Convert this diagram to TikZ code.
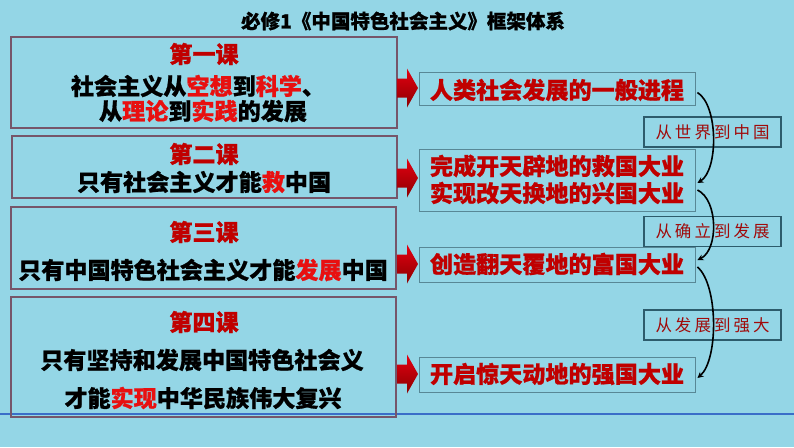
\documentclass[tikz,border=0pt]{standalone}
\usepackage{fontspec}
\setmainfont[BoldFeatures={FakeBold=0.8}]{Noto Sans CJK SC}
\usetikzlibrary{calc,arrows.meta}
\definecolor{bg}{RGB}{148,214,230}
\definecolor{lboxc}{RGB}{118,86,106}
\definecolor{rboxc}{RGB}{88,136,150}
\definecolor{hl}{RGB}{232,16,16}
\definecolor{dred}{RGB}{192,0,0}
\definecolor{kred}{RGB}{160,10,10}
\definecolor{tagc}{RGB}{45,92,108}
\definecolor{blinec}{RGB}{58,110,200}
\definecolor{arrdark}{RGB}{140,0,0}
\definecolor{arrlight}{RGB}{228,0,18}
\newcommand{\hlt}[1]{\textcolor{hl}{#1}}
\newcommand{\tsp}{\hspace{3pt}}
\begin{document}
\begin{tikzpicture}[x=1pt,y=-1pt,
  lboxs/.style={draw=lboxc,line width=1.1pt,inner sep=0},
  rboxs/.style={draw=rboxc,line width=0.9pt,inner sep=0,minimum width=276,minimum height=33},
  tagbox/.style={draw=tagc,line width=1.2pt,inner sep=0,minimum width=137,minimum height=30,
     font=\fontsize{16.5}{18}\selectfont,text=kred},
  ltxt/.style={inner sep=0,font=\fontsize{23.1}{26}\selectfont\bfseries,text=black},
  lhead/.style={ltxt,text=dred},
  rtxt/.style={inner sep=0,font=\fontsize{23.1}{26}\selectfont\bfseries,text=dred},
  curvearr/.style={draw=black,line width=1.6pt,-{Stealth[length=6pt,width=6pt]}},
  barrow/.pic={\shade[top color=arrlight,bottom color=arrdark]
     (-10.5,-9.5) -- (-0.5,-9.5) -- (-0.5,-19.5) -- (10.5,0) -- (-0.5,19.5) -- (-0.5,9.5) -- (-10.5,9.5) -- cycle;}
]
\fill[bg] (0,0) rectangle (794,447);
\useasboundingbox (0,0) rectangle (794,447);

% title
\node[inner sep=0,font=\fontsize{19.5}{22}\selectfont\bfseries] (title) at (403,21) {必修1《中国特色社会主义》框架体系};

% blue line
\coordinate (bl1) at (0,414);
\coordinate (bl2) at (794,414);
\draw[blinec,line width=1.4pt] (bl1) -- (bl2);

% left boxes
\node[lboxs,minimum width=386,minimum height=91] (b1) at (204,82.5) {};
\node[lboxs,minimum width=385,minimum height=62] (b2) at (204.5,167) {};
\node[lboxs,minimum width=385,minimum height=82] (b3) at (203.5,248) {};
\node[lboxs,minimum width=385,minimum height=120] (b4) at (203.5,357) {};

\node[lhead] (b1h) at (204,54) {第一课};
\node[ltxt] (b1a) at (198,86) {社会主义从\hlt{空想}到\hlt{科学}、};
\node[ltxt] (b1b) at (203,111) {从\hlt{理论}到\hlt{实践}的发展};

\node[lhead] (b2h) at (204,154) {第二课};
\node[ltxt] (b2a) at (204,182) {只有社会主义才能\hlt{救}中国};

\node[lhead] (b3h) at (204,232) {第三课};
\node[ltxt] (b3a) at (203,270) {只有中国特色社会主义才能\hlt{发展}中国};

\node[lhead] (b4h) at (204,322) {第四课};
\node[ltxt] (b4a) at (202,360) {只有坚持和发展中国特色社会义};
\node[ltxt] (b4b) at (203,398) {才能\hlt{实现}中华民族伟大复兴};

% right boxes
\node[rboxs] (r1) at (557,88.5) {};
\node[rboxs,minimum height=62] (r2) at (557,180) {};
\node[rboxs,minimum height=35] (r3) at (557,264.5) {};
\node[rboxs,minimum height=35] (r4) at (557,374.5) {};

\node[rtxt] (r1t) at (557,90) {人类社会发展的一般进程};
\node[rtxt] (r2a) at (557,166) {完成开天辟地的救国大业};
\node[rtxt] (r2b) at (557,193) {实现改天换地的兴国大业};
\node[rtxt] (r3t) at (557,264) {创造翻天覆地的富国大业};
\node[rtxt] (r4t) at (557,374) {开启惊天动地的强国大业};

% block arrows
\pic at (407.5,88) {barrow};
\pic at (407.5,178) {barrow};
\pic at (407.5,264) {barrow};
\pic at (407.5,374) {barrow};

% tag boxes
\node[tagbox] (t1) at (712.5,132) {从\tsp 世\tsp 界\tsp 到\tsp 中\tsp 国};
\node[tagbox] (t2) at (712.5,231.5) {从\tsp 确\tsp 立\tsp 到\tsp 发\tsp 展};
\node[tagbox] (t3) at (712.5,325) {从\tsp 发\tsp 展\tsp 到\tsp 强\tsp 大};

% curved connectors
\draw[curvearr] ($(r1.east)+(2,4)$) .. controls ($(r1.east)+(23,17)$) and ($(r2.east)+(23,-10)$) .. ($(r2.east)+(2,3)$);
\draw[curvearr] ($(r2.east)+(2,10)$) .. controls ($(r2.east)+(23,20)$) and ($(r3.east)+(23,-14.5)$) .. ($(r3.east)+(2,-4.5)$);
\draw[curvearr] ($(r3.east)+(2,2.5)$) .. controls ($(r3.east)+(23,20.5)$) and ($(r4.east)+(23,-14.5)$) .. ($(r4.east)+(2,3.5)$);
\end{tikzpicture}
\end{document}
